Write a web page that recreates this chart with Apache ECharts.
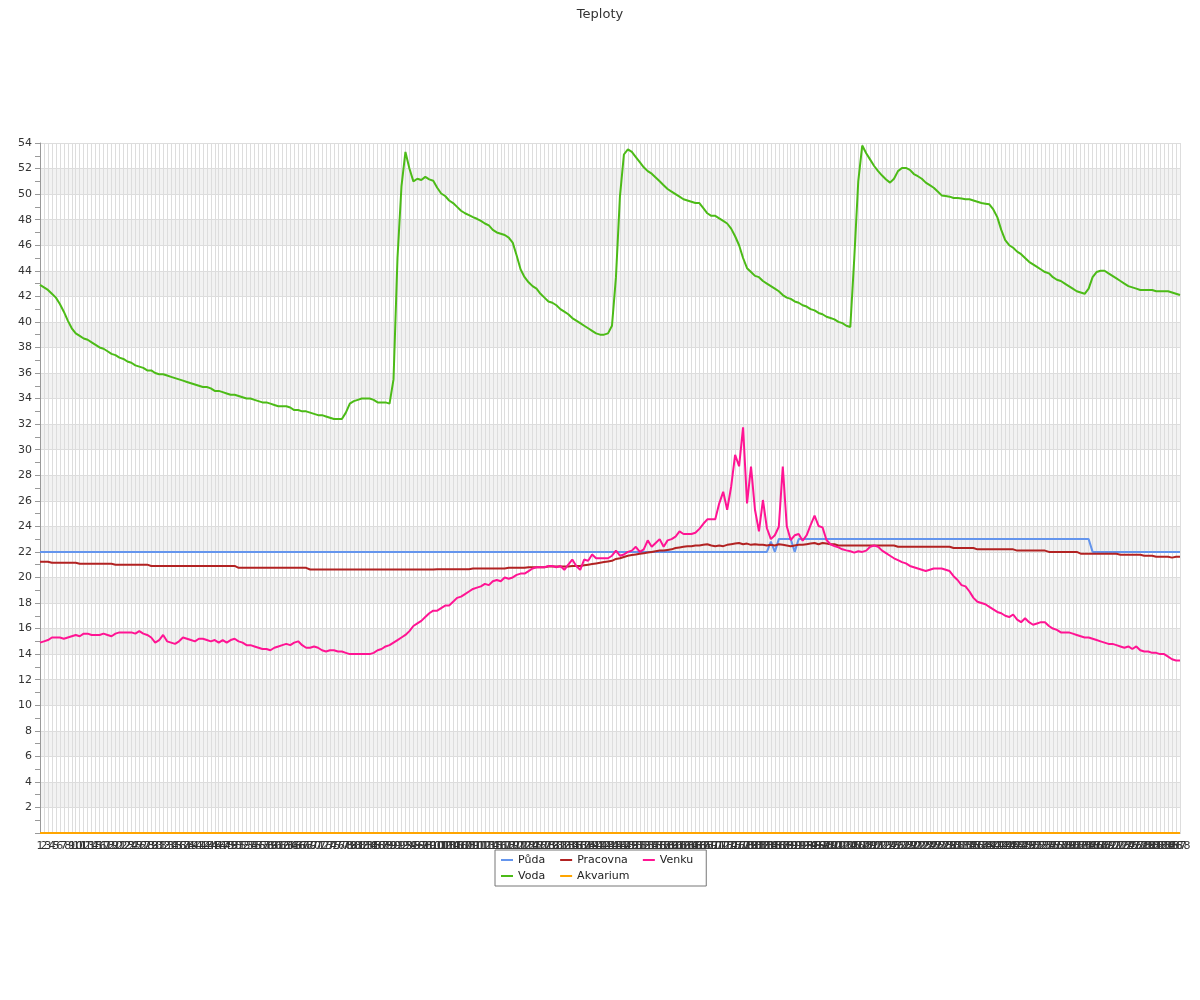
<!DOCTYPE html>
<html>
<head>
<meta charset="utf-8">
<script src="https://cdn.jsdelivr.net/npm/echarts@6/dist/echarts.min.js"></script>
<style>html,body{margin:0;padding:0;background:#fff}#c{width:1200px;height:1000px}</style>
</head>
<body>
<div id="c"></div>
<script>
const categories = [
1,2,3,4,5,6,7,8,9,10,11,12,13,14,15,16,17,18,19,20,
21,22,23,24,25,26,27,28,29,30,31,32,33,34,35,36,37,38,39,40,
41,42,43,44,45,46,47,48,49,50,51,52,53,54,55,56,57,58,59,60,
61,62,63,64,65,66,67,68,69,70,71,72,73,74,75,76,77,78,79,80,
81,82,83,84,85,86,87,88,89,90,91,92,93,94,95,96,97,98,99,100,
101,102,103,104,105,106,107,108,109,110,111,112,113,114,115,116,117,118,119,120,
121,122,123,124,125,126,127,128,129,130,131,132,133,134,135,136,137,138,139,140,
141,142,143,144,145,146,147,148,149,150,151,152,153,154,155,156,157,158,159,160,
161,162,163,164,165,166,167,168,169,170,171,172,173,174,175,176,177,178,179,180,
181,182,183,184,185,186,187,188,189,190,191,192,193,194,195,196,197,198,199,200,
201,202,203,204,205,206,207,208,209,210,211,212,213,214,215,216,217,218,219,220,
221,222,223,224,225,226,227,228,229,230,231,232,233,234,235,236,237,238,239,240,
241,242,243,244,245,246,247,248,249,250,251,252,253,254,255,256,257,258,259,260,
261,262,263,264,265,266,267,268,269,270,271,272,273,274,275,276,277,278,279,280,
281,282,283,284,285,286,287,288
];

const puda = [
22,22,22,22,22,22,22,22,22,22, 22,22,22,22,22,22,22,22,22,22,
22,22,22,22,22,22,22,22,22,22, 22,22,22,22,22,22,22,22,22,22,
22,22,22,22,22,22,22,22,22,22, 22,22,22,22,22,22,22,22,22,22,
22,22,22,22,22,22,22,22,22,22, 22,22,22,22,22,22,22,22,22,22,
22,22,22,22,22,22,22,22,22,22, 22,22,22,22,22,22,22,22,22,22,
22,22,22,22,22,22,22,22,22,22, 22,22,22,22,22,22,22,22,22,22,
22,22,22,22,22,22,22,22,22,22, 22,22,22,22,22,22,22,22,22,22,
22,22,22,22,22,22,22,22,22,22, 22,22,22,22,22,22,22,22,22,22,
22,22,22,22,22,22,22,22,22,22, 22,22,22,22,22,22,22,22,22,22,
22,22,22,22,22.8,22,23,23,23,23, 22,23,23,23,23,23,23,23,23,23,
23,23,23,23,23,23,23,23,23,23, 23,23,23,23,23,23,23,23,23,23,
23,23,23,23,23,23,23,23,23,23, 23,23,23,23,23,23,23,23,23,23,
23,23,23,23,23,23,23,23,23,23, 23,23,23,23,23,23,23,23,23,23,
23,23,23,23,23,22,22,22,22,22, 22,22,22,22,22,22,22,22,22,22,
22,22,22,22,22,22,22,22
];

const voda = [
42.9,42.7,42.5,42.2,41.9,41.4,40.8,40.1,39.5,39.1,
38.9,38.7,38.6,38.4,38.2,38.0,37.9,37.7,37.5,37.4,
37.2,37.1,36.9,36.8,36.6,36.5,36.4,36.2,36.2,36.0,
35.9,35.9,35.8,35.7,35.6,35.5,35.4,35.3,35.2,35.1,
35.0,34.9,34.9,34.8,34.6,34.6,34.5,34.4,34.3,34.3,
34.2,34.1,34.0,34.0,33.9,33.8,33.7,33.7,33.6,33.5,
33.4,33.4,33.4,33.3,33.1,33.1,33.0,33.0,32.9,32.8,
32.7,32.7,32.6,32.5,32.4,32.4,32.4,32.9,33.6,33.8,
33.9,34.0,34.0,34.0,33.9,33.7,33.7,33.7,33.6,35.5,
45.0,50.6,53.3,52.0,51.0,51.2,51.1,51.35,51.15,51.05,
50.5,50.05,49.85,49.5,49.3,49.0,48.7,48.5,48.36,48.2,
48.07,47.9,47.7,47.55,47.2,47.0,46.9,46.8,46.6,46.2,
45.2,44.1,43.5,43.1,42.8,42.6,42.2,41.9,41.6,41.5,
41.3,41.0,40.8,40.6,40.3,40.1,39.9,39.7,39.5,39.3,
39.1,39.0,39.0,39.1,39.7,43.5,49.8,53.1,53.5,53.3,
52.9,52.5,52.1,51.8,51.6,51.3,51.0,50.7,50.4,50.2,
50.0,49.8,49.6,49.5,49.4,49.3,49.3,48.9,48.5,48.3,
48.3,48.1,47.9,47.7,47.3,46.7,46.0,45.0,44.2,43.9,
43.6,43.5,43.2,43.0,42.8,42.6,42.4,42.1,41.9,41.8,
41.6,41.5,41.3,41.2,41.0,40.9,40.7,40.6,40.4,40.3,
40.2,40.0,39.9,39.7,39.6,45.0,51.0,53.8,53.2,52.7,
52.2,51.8,51.45,51.15,50.9,51.2,51.8,52.05,52.05,51.9,
51.57,51.4,51.2,50.9,50.7,50.5,50.2,49.9,49.85,49.8,
49.7,49.7,49.65,49.6,49.6,49.5,49.4,49.3,49.25,49.2,
48.8,48.2,47.2,46.4,46.0,45.8,45.5,45.3,45.0,44.7,
44.5,44.3,44.1,43.9,43.8,43.5,43.3,43.2,43.0,42.8,
42.6,42.4,42.3,42.2,42.6,43.5,43.9,44.0,44.0,43.8,
43.6,43.4,43.2,43.0,42.8,42.7,42.6,42.5,42.5,42.5,
42.5,42.4,42.4,42.4,42.4,42.3,42.2,42.1
];

const pracovna = [
21.23,21.23,21.23,21.15,21.15,21.15,21.15,21.15,21.15,21.15,
21.07,21.07,21.07,21.07,21.07,21.07,21.07,21.07,21.07,21.0,
21.0,21.0,21.0,21.0,21.0,21.0,21.0,21.0,20.9,20.9,
20.9,20.9,20.9,20.9,20.9,20.9,20.9,20.9,20.9,20.9,
20.9,20.9,20.9,20.9,20.9,20.9,20.9,20.9,20.9,20.9,
20.75,20.75,20.75,20.75,20.75,20.75,20.75,20.75,20.75,20.75,
20.75,20.75,20.75,20.75,20.75,20.75,20.75,20.75,20.62,20.62,
20.62,20.62,20.62,20.62,20.62,20.62,20.62,20.62,20.62,20.62,
20.62,20.62,20.62,20.62,20.62,20.62,20.62,20.62,20.62,20.62,
20.62,20.62,20.62,20.62,20.62,20.62,20.62,20.62,20.62,20.62,
20.65,20.65,20.65,20.65,20.65,20.65,20.65,20.65,20.65,20.7,
20.7,20.7,20.7,20.7,20.7,20.7,20.7,20.7,20.75,20.75,
20.75,20.75,20.75,20.8,20.8,20.8,20.8,20.8,20.85,20.85,
20.85,20.85,20.85,20.85,20.9,20.9,20.9,20.95,21.0,21.05,
21.1,21.15,21.2,21.25,21.3,21.45,21.5,21.6,21.7,21.75,
21.8,21.85,21.9,21.95,22.0,22.05,22.1,22.1,22.15,22.2,
22.3,22.35,22.4,22.45,22.45,22.5,22.5,22.55,22.6,22.5,
22.45,22.5,22.45,22.55,22.6,22.65,22.7,22.6,22.65,22.55,
22.6,22.55,22.55,22.5,22.55,22.5,22.6,22.55,22.5,22.45,
22.5,22.55,22.55,22.6,22.65,22.7,22.6,22.7,22.65,22.6,
22.6,22.5,22.5,22.5,22.5,22.5,22.5,22.5,22.5,22.5,
22.5,22.5,22.5,22.5,22.5,22.5,22.4,22.4,22.4,22.4,
22.4,22.4,22.4,22.4,22.4,22.4,22.4,22.4,22.4,22.4,
22.3,22.3,22.3,22.3,22.3,22.3,22.2,22.2,22.2,22.2,
22.2,22.2,22.2,22.2,22.2,22.2,22.1,22.1,22.1,22.1,
22.1,22.1,22.1,22.1,22.0,22.0,22.0,22.0,22.0,22.0,
22.0,22.0,21.86,21.86,21.86,21.86,21.86,21.86,21.86,21.86,
21.86,21.86,21.78,21.78,21.78,21.78,21.78,21.78,21.7,21.7,
21.7,21.62,21.62,21.62,21.62,21.55,21.62,21.62
];

const akvarium = [
0,0,0,0,0,0,0,0,0,0, 0,0,0,0,0,0,0,0,0,0, 0,0,0,0,0,0,0,0,0,0,
0,0,0,0,0,0,0,0,0,0, 0,0,0,0,0,0,0,0,0,0, 0,0,0,0,0,0,0,0,0,0,
0,0,0,0,0,0,0,0,0,0, 0,0,0,0,0,0,0,0,0,0, 0,0,0,0,0,0,0,0,0,0,
0,0,0,0,0,0,0,0,0,0, 0,0,0,0,0,0,0,0,0,0, 0,0,0,0,0,0,0,0,0,0,
0,0,0,0,0,0,0,0,0,0, 0,0,0,0,0,0,0,0,0,0, 0,0,0,0,0,0,0,0,0,0,
0,0,0,0,0,0,0,0,0,0, 0,0,0,0,0,0,0,0,0,0, 0,0,0,0,0,0,0,0,0,0,
0,0,0,0,0,0,0,0,0,0, 0,0,0,0,0,0,0,0,0,0, 0,0,0,0,0,0,0,0,0,0,
0,0,0,0,0,0,0,0,0,0, 0,0,0,0,0,0,0,0,0,0, 0,0,0,0,0,0,0,0,0,0,
0,0,0,0,0,0,0,0,0,0, 0,0,0,0,0,0,0,0,0,0, 0,0,0,0,0,0,0,0,0,0,
0,0,0,0,0,0,0,0,0,0, 0,0,0,0,0,0,0,0
];

const venku = [
14.9,15.0,15.1,15.3,15.3,15.3,15.2,15.3,15.4,15.5,
15.4,15.6,15.6,15.5,15.5,15.5,15.6,15.5,15.4,15.6,
15.7,15.7,15.7,15.7,15.6,15.8,15.6,15.5,15.3,14.9,
15.1,15.5,15.0,14.9,14.8,15.0,15.3,15.2,15.1,15.0,
15.2,15.2,15.1,15.0,15.1,14.9,15.1,14.9,15.1,15.2,
15.0,14.9,14.7,14.7,14.6,14.5,14.4,14.4,14.3,14.5,
14.6,14.7,14.8,14.7,14.9,15.0,14.7,14.5,14.5,14.6,
14.5,14.3,14.2,14.3,14.3,14.2,14.2,14.1,14.0,14.0,
14.0,14.0,14.0,14.0,14.1,14.3,14.4,14.6,14.7,14.9,
15.1,15.3,15.5,15.8,16.2,16.4,16.6,16.9,17.2,17.4,
17.4,17.6,17.8,17.8,18.1,18.4,18.5,18.7,18.9,19.1,
19.2,19.3,19.5,19.4,19.7,19.8,19.7,20.0,19.9,20.0,
20.2,20.3,20.3,20.5,20.7,20.8,20.8,20.8,20.9,20.9,
20.8,20.9,20.6,21.0,21.4,20.9,20.6,21.4,21.3,21.8,
21.5,21.5,21.5,21.5,21.7,22.1,21.7,21.8,22.0,22.1,
22.4,22.0,22.2,22.9,22.4,22.7,23.0,22.4,22.9,23.0,
23.2,23.6,23.4,23.4,23.4,23.5,23.8,24.2,24.55,24.55,
24.55,25.8,26.7,25.3,27.1,29.6,28.7,31.75,25.8,28.67,
25.3,23.6,26.06,23.85,23.0,23.3,23.97,28.67,24.0,22.93,
23.3,23.4,22.88,23.3,24.1,24.83,24.03,23.92,22.93,22.6,
22.46,22.35,22.2,22.12,22.05,21.94,22.05,22.0,22.1,22.4,
22.5,22.4,22.1,21.9,21.7,21.5,21.35,21.2,21.1,20.9,
20.8,20.7,20.6,20.5,20.6,20.7,20.7,20.7,20.6,20.5,
20.1,19.8,19.4,19.3,18.9,18.4,18.1,18.0,17.9,17.7,
17.5,17.3,17.2,17.0,16.9,17.1,16.7,16.5,16.8,16.5,
16.3,16.4,16.5,16.5,16.2,16.0,15.9,15.7,15.7,15.7,
15.6,15.5,15.4,15.3,15.3,15.2,15.1,15.0,14.9,14.8,
14.8,14.7,14.6,14.5,14.6,14.4,14.6,14.3,14.2,14.2,
14.1,14.1,14.0,14.0,13.8,13.6,13.5,13.5
];

const seriesNames = ['Půda', 'Voda', 'Pracovna', 'Akvarium', 'Venku'];
const legendOrder = ['Půda', 'Pracovna', 'Venku', 'Voda', 'Akvarium'];
const colors = ['#6495ED', '#4CBB17', '#B22222', '#FFA500', '#FF1493'];
const seriesData = [puda, voda, pracovna, akvarium, venku];

const FONT = 'DejaVu Sans';
const chart = echarts.init(document.getElementById('c'), null, {renderer: 'canvas'});
chart.setOption({
  animation: false,
  backgroundColor: '#ffffff',
  color: colors,
  textStyle: {fontFamily: FONT},
  title: {
    text: 'Teploty',
    left: 'center',
    top: 3,
    textStyle: {fontSize: 13, fontWeight: 'normal', color: '#333', fontFamily: FONT}
  },
  legend: {
    data: legendOrder,
    top: 850,
    left: 495,
    width: 235,
    orient: 'horizontal',
    icon: 'rect',
    itemWidth: 12,
    itemHeight: 2,
    itemGap: 2,
    padding: [3, 0, 3, 6],
    borderColor: '#777',
    borderWidth: 1,
    backgroundColor: '#fff',
    textStyle: {fontSize: 11, lineHeight: 14, color: '#222', fontFamily: FONT, padding: [0, 13, 0, 0]}
  },
  grid: {left: 40, right: 20, top: 143, bottom: 167, containLabel: false},
  xAxis: {
    type: 'category',
    boundaryGap: false,
    data: categories.map(String),
    axisLine: {show: true, lineStyle: {color: '#999'}},
    axisTick: {show: false},
    axisLabel: {interval: 0, fontSize: 11, color: '#333', margin: 8, fontFamily: FONT},
    splitLine: {show: true, interval: 0, lineStyle: {color: '#dddddd', width: 1}}
  },
  yAxis: {
    type: 'value',
    min: 0,
    max: 54,
    interval: 2,
    axisLine: {show: true, lineStyle: {color: '#999'}},
    axisTick: {show: true, length: 5, lineStyle: {color: '#999'}},
    minorTick: {show: true, splitNumber: 2, length: 5, lineStyle: {color: '#999'}},
    axisLabel: {fontSize: 11, color: '#333', showMinLabel: false, fontFamily: FONT},
    splitLine: {show: true, lineStyle: {color: '#dddddd', width: 1}},
    splitArea: {show: true, areaStyle: {color: ['#ffffff', '#f2f2f2']}}
  },
  series: seriesNames.map((name, k) => ({
    name: name,
    type: 'line',
    data: seriesData[k],
    showSymbol: false,
    symbol: 'none',
    smooth: false,
    lineStyle: {width: 2, color: colors[k]},
    itemStyle: {color: colors[k]}
  }))
});
</script>
</body>
</html>
